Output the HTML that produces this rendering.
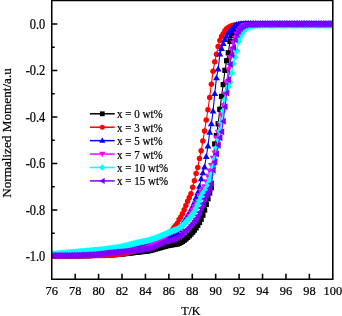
<!DOCTYPE html>
<html><head><meta charset="utf-8"><style>
html,body{margin:0;padding:0;background:#fff;overflow:hidden;}
svg{display:block;will-change:transform;}
</style></head><body>
<svg width="342" height="316" viewBox="0 0 342 316">
<rect width="342" height="316" fill="#fff"/>
<path d="M75.17,279.15v-5.3M98.59,279.15v-5.3M122.01,279.15v-5.3M145.43,279.15v-5.3M168.85,279.15v-5.3M192.27,279.15v-5.3M215.69,279.15v-5.3M239.11,279.15v-5.3M262.53,279.15v-5.3M285.95,279.15v-5.3M309.37,279.15v-5.3M51.75,23.90h5.6M51.75,47.15h3.0M51.75,70.40h5.6M51.75,93.65h3.0M51.75,116.90h5.6M51.75,140.15h3.0M51.75,163.40h5.6M51.75,186.65h3.0M51.75,209.90h5.6M51.75,233.15h3.0M51.75,256.40h5.6" stroke="#000" stroke-width="1.55"/>
<defs><clipPath id="pc"><rect x="51.75" y="0.35" width="281.04" height="278.80"/></clipPath></defs>
<g clip-path="url(#pc)"><g fill="#000"><path d="M51.75,255.80L53.45,255.80L55.15,255.80L56.84,255.79L58.54,255.79L60.24,255.78L61.94,255.78L63.64,255.77L65.33,255.76L67.03,255.75L68.73,255.73L70.43,255.72L72.13,255.71L73.82,255.69L75.52,255.67L77.22,255.65L78.92,255.63L80.62,255.61L82.31,255.59L84.01,255.57L85.71,255.55L87.41,255.52L89.10,255.49L90.80,255.47L92.50,255.44L94.20,255.41L95.90,255.38L97.59,255.35L99.29,255.31L100.99,255.28L102.69,255.23L104.39,255.16L106.08,255.08L107.78,254.99L109.48,254.88L111.18,254.77L112.88,254.65L114.57,254.52L116.27,254.39L117.97,254.26L119.67,254.13L121.37,253.99L123.06,253.83L124.76,253.65L126.46,253.46L128.16,253.26L129.86,253.05L131.55,252.84L133.25,252.63L134.95,252.41L136.65,252.20L138.35,251.99L140.04,251.80L141.74,251.62L143.44,251.45L145.14,251.27L146.84,251.07L148.53,250.81L150.23,250.46L151.93,250.03L153.63,249.55L155.32,249.03L157.02,248.53L158.72,248.05L160.42,247.59L162.12,247.12L163.81,246.64L165.51,246.17L167.21,245.73L168.91,245.33L170.61,244.99L172.30,244.72L174.00,244.50L175.70,244.24L177.40,243.90L179.10,243.33L180.79,242.43L182.49,241.41L184.19,240.20L185.89,238.82L187.59,237.33L189.28,235.75L190.98,234.03L192.68,232.16L194.38,230.09L196.08,227.82L197.77,225.32L199.47,222.48L201.17,219.21L202.87,215.16L204.57,210.01L206.26,204.41L207.96,198.81L209.66,193.03L211.36,187.72L213.06,165.65L214.75,143.99L216.45,135.56L218.15,123.79L219.85,109.30L221.54,96.43L223.24,84.59L224.94,70.35L226.64,60.69L228.34,52.80L230.03,41.39L231.73,35.60L233.43,31.77L235.13,29.20L236.83,27.33L238.52,26.23L240.22,25.41L241.92,24.75L243.62,24.33L245.32,24.20L247.01,24.18L248.71,24.17L250.41,24.15L252.11,24.14L253.81,24.12L255.50,24.11L257.20,24.10L258.90,24.09L260.60,24.08L262.30,24.07L263.99,24.05L265.69,24.04L267.39,24.04L269.09,24.03L270.79,24.02L272.48,24.01L274.18,24.00L275.88,23.99L277.58,23.99L279.28,23.98L280.97,23.97L282.67,23.97L284.37,23.96L286.07,23.96L287.77,23.95L289.46,23.95L291.16,23.94L292.86,23.94L294.56,23.93L296.25,23.93L297.95,23.93L299.65,23.92L301.35,23.92L303.05,23.92L304.74,23.92L306.44,23.91L308.14,23.91L309.84,23.91L311.54,23.91L313.23,23.91L314.93,23.91L316.63,23.90L318.33,23.90L320.03,23.90L321.72,23.90L323.42,23.90L325.12,23.90L326.82,23.90L328.52,23.90L330.21,23.90L331.91,23.90" fill="none" stroke="#000" stroke-width="1.1"/>
<rect x="49.11" y="253.16" width="5.28" height="5.28"/><rect x="50.81" y="253.16" width="5.28" height="5.28"/><rect x="52.51" y="253.16" width="5.28" height="5.28"/><rect x="54.20" y="253.15" width="5.28" height="5.28"/><rect x="55.90" y="253.15" width="5.28" height="5.28"/><rect x="57.60" y="253.14" width="5.28" height="5.28"/><rect x="59.30" y="253.14" width="5.28" height="5.28"/><rect x="61.00" y="253.13" width="5.28" height="5.28"/><rect x="62.69" y="253.12" width="5.28" height="5.28"/><rect x="64.39" y="253.11" width="5.28" height="5.28"/><rect x="66.09" y="253.09" width="5.28" height="5.28"/><rect x="67.79" y="253.08" width="5.28" height="5.28"/><rect x="69.49" y="253.07" width="5.28" height="5.28"/><rect x="71.18" y="253.05" width="5.28" height="5.28"/><rect x="72.88" y="253.03" width="5.28" height="5.28"/><rect x="74.58" y="253.01" width="5.28" height="5.28"/><rect x="76.28" y="252.99" width="5.28" height="5.28"/><rect x="77.98" y="252.97" width="5.28" height="5.28"/><rect x="79.67" y="252.95" width="5.28" height="5.28"/><rect x="81.37" y="252.93" width="5.28" height="5.28"/><rect x="83.07" y="252.91" width="5.28" height="5.28"/><rect x="84.77" y="252.88" width="5.28" height="5.28"/><rect x="86.46" y="252.85" width="5.28" height="5.28"/><rect x="88.16" y="252.83" width="5.28" height="5.28"/><rect x="89.86" y="252.80" width="5.28" height="5.28"/><rect x="91.56" y="252.77" width="5.28" height="5.28"/><rect x="93.26" y="252.74" width="5.28" height="5.28"/><rect x="94.95" y="252.71" width="5.28" height="5.28"/><rect x="96.65" y="252.67" width="5.28" height="5.28"/><rect x="98.35" y="252.64" width="5.28" height="5.28"/><rect x="100.05" y="252.59" width="5.28" height="5.28"/><rect x="101.75" y="252.52" width="5.28" height="5.28"/><rect x="103.44" y="252.44" width="5.28" height="5.28"/><rect x="105.14" y="252.35" width="5.28" height="5.28"/><rect x="106.84" y="252.24" width="5.28" height="5.28"/><rect x="108.54" y="252.13" width="5.28" height="5.28"/><rect x="110.24" y="252.01" width="5.28" height="5.28"/><rect x="111.93" y="251.88" width="5.28" height="5.28"/><rect x="113.63" y="251.75" width="5.28" height="5.28"/><rect x="115.33" y="251.62" width="5.28" height="5.28"/><rect x="117.03" y="251.49" width="5.28" height="5.28"/><rect x="118.73" y="251.35" width="5.28" height="5.28"/><rect x="120.42" y="251.19" width="5.28" height="5.28"/><rect x="122.12" y="251.01" width="5.28" height="5.28"/><rect x="123.82" y="250.82" width="5.28" height="5.28"/><rect x="125.52" y="250.62" width="5.28" height="5.28"/><rect x="127.22" y="250.41" width="5.28" height="5.28"/><rect x="128.91" y="250.20" width="5.28" height="5.28"/><rect x="130.61" y="249.99" width="5.28" height="5.28"/><rect x="132.31" y="249.77" width="5.28" height="5.28"/><rect x="134.01" y="249.56" width="5.28" height="5.28"/><rect x="135.71" y="249.35" width="5.28" height="5.28"/><rect x="137.40" y="249.16" width="5.28" height="5.28"/><rect x="139.10" y="248.98" width="5.28" height="5.28"/><rect x="140.80" y="248.81" width="5.28" height="5.28"/><rect x="142.50" y="248.63" width="5.28" height="5.28"/><rect x="144.20" y="248.43" width="5.28" height="5.28"/><rect x="145.89" y="248.17" width="5.28" height="5.28"/><rect x="147.59" y="247.82" width="5.28" height="5.28"/><rect x="149.29" y="247.39" width="5.28" height="5.28"/><rect x="150.99" y="246.91" width="5.28" height="5.28"/><rect x="152.68" y="246.39" width="5.28" height="5.28"/><rect x="154.38" y="245.89" width="5.28" height="5.28"/><rect x="156.08" y="245.41" width="5.28" height="5.28"/><rect x="157.78" y="244.95" width="5.28" height="5.28"/><rect x="159.48" y="244.48" width="5.28" height="5.28"/><rect x="161.17" y="244.00" width="5.28" height="5.28"/><rect x="162.87" y="243.53" width="5.28" height="5.28"/><rect x="164.57" y="243.09" width="5.28" height="5.28"/><rect x="166.27" y="242.69" width="5.28" height="5.28"/><rect x="167.97" y="242.35" width="5.28" height="5.28"/><rect x="169.66" y="242.08" width="5.28" height="5.28"/><rect x="171.36" y="241.86" width="5.28" height="5.28"/><rect x="173.06" y="241.60" width="5.28" height="5.28"/><rect x="174.76" y="241.26" width="5.28" height="5.28"/><rect x="176.46" y="240.69" width="5.28" height="5.28"/><rect x="178.15" y="239.79" width="5.28" height="5.28"/><rect x="179.85" y="238.77" width="5.28" height="5.28"/><rect x="181.55" y="237.56" width="5.28" height="5.28"/><rect x="183.25" y="236.18" width="5.28" height="5.28"/><rect x="184.95" y="234.69" width="5.28" height="5.28"/><rect x="186.64" y="233.11" width="5.28" height="5.28"/><rect x="188.34" y="231.39" width="5.28" height="5.28"/><rect x="190.04" y="229.52" width="5.28" height="5.28"/><rect x="191.74" y="227.45" width="5.28" height="5.28"/><rect x="193.44" y="225.18" width="5.28" height="5.28"/><rect x="195.13" y="222.68" width="5.28" height="5.28"/><rect x="196.83" y="219.84" width="5.28" height="5.28"/><rect x="198.53" y="216.57" width="5.28" height="5.28"/><rect x="200.23" y="212.52" width="5.28" height="5.28"/><rect x="201.93" y="207.37" width="5.28" height="5.28"/><rect x="203.62" y="201.77" width="5.28" height="5.28"/><rect x="205.32" y="196.17" width="5.28" height="5.28"/><rect x="207.02" y="190.39" width="5.28" height="5.28"/><rect x="208.72" y="185.08" width="5.28" height="5.28"/><rect x="210.42" y="163.01" width="5.28" height="5.28"/><rect x="212.11" y="141.35" width="5.28" height="5.28"/><rect x="213.81" y="132.92" width="5.28" height="5.28"/><rect x="215.51" y="121.15" width="5.28" height="5.28"/><rect x="217.21" y="106.66" width="5.28" height="5.28"/><rect x="218.90" y="93.79" width="5.28" height="5.28"/><rect x="220.60" y="81.95" width="5.28" height="5.28"/><rect x="222.30" y="67.71" width="5.28" height="5.28"/><rect x="224.00" y="58.05" width="5.28" height="5.28"/><rect x="225.70" y="50.16" width="5.28" height="5.28"/><rect x="227.39" y="38.75" width="5.28" height="5.28"/><rect x="229.09" y="32.96" width="5.28" height="5.28"/><rect x="230.79" y="29.13" width="5.28" height="5.28"/><rect x="232.49" y="26.56" width="5.28" height="5.28"/><rect x="234.19" y="24.69" width="5.28" height="5.28"/><rect x="235.88" y="23.59" width="5.28" height="5.28"/><rect x="237.58" y="22.77" width="5.28" height="5.28"/><rect x="239.28" y="22.11" width="5.28" height="5.28"/><rect x="240.98" y="21.69" width="5.28" height="5.28"/><rect x="242.68" y="21.56" width="5.28" height="5.28"/><rect x="244.37" y="21.54" width="5.28" height="5.28"/><rect x="246.07" y="21.53" width="5.28" height="5.28"/><rect x="247.77" y="21.51" width="5.28" height="5.28"/><rect x="249.47" y="21.50" width="5.28" height="5.28"/><rect x="251.17" y="21.48" width="5.28" height="5.28"/><rect x="252.86" y="21.47" width="5.28" height="5.28"/><rect x="254.56" y="21.46" width="5.28" height="5.28"/><rect x="256.26" y="21.45" width="5.28" height="5.28"/><rect x="257.96" y="21.44" width="5.28" height="5.28"/><rect x="259.66" y="21.43" width="5.28" height="5.28"/><rect x="261.35" y="21.41" width="5.28" height="5.28"/><rect x="263.05" y="21.40" width="5.28" height="5.28"/><rect x="264.75" y="21.40" width="5.28" height="5.28"/><rect x="266.45" y="21.39" width="5.28" height="5.28"/><rect x="268.15" y="21.38" width="5.28" height="5.28"/><rect x="269.84" y="21.37" width="5.28" height="5.28"/><rect x="271.54" y="21.36" width="5.28" height="5.28"/><rect x="273.24" y="21.35" width="5.28" height="5.28"/><rect x="274.94" y="21.35" width="5.28" height="5.28"/><rect x="276.64" y="21.34" width="5.28" height="5.28"/><rect x="278.33" y="21.33" width="5.28" height="5.28"/><rect x="280.03" y="21.33" width="5.28" height="5.28"/><rect x="281.73" y="21.32" width="5.28" height="5.28"/><rect x="283.43" y="21.32" width="5.28" height="5.28"/><rect x="285.13" y="21.31" width="5.28" height="5.28"/><rect x="286.82" y="21.31" width="5.28" height="5.28"/><rect x="288.52" y="21.30" width="5.28" height="5.28"/><rect x="290.22" y="21.30" width="5.28" height="5.28"/><rect x="291.92" y="21.29" width="5.28" height="5.28"/><rect x="293.61" y="21.29" width="5.28" height="5.28"/><rect x="295.31" y="21.29" width="5.28" height="5.28"/><rect x="297.01" y="21.28" width="5.28" height="5.28"/><rect x="298.71" y="21.28" width="5.28" height="5.28"/><rect x="300.41" y="21.28" width="5.28" height="5.28"/><rect x="302.10" y="21.28" width="5.28" height="5.28"/><rect x="303.80" y="21.27" width="5.28" height="5.28"/><rect x="305.50" y="21.27" width="5.28" height="5.28"/><rect x="307.20" y="21.27" width="5.28" height="5.28"/><rect x="308.90" y="21.27" width="5.28" height="5.28"/><rect x="310.59" y="21.27" width="5.28" height="5.28"/><rect x="312.29" y="21.27" width="5.28" height="5.28"/><rect x="313.99" y="21.26" width="5.28" height="5.28"/><rect x="315.69" y="21.26" width="5.28" height="5.28"/><rect x="317.39" y="21.26" width="5.28" height="5.28"/><rect x="319.08" y="21.26" width="5.28" height="5.28"/><rect x="320.78" y="21.26" width="5.28" height="5.28"/><rect x="322.48" y="21.26" width="5.28" height="5.28"/><rect x="324.18" y="21.26" width="5.28" height="5.28"/><rect x="325.88" y="21.26" width="5.28" height="5.28"/><rect x="327.57" y="21.26" width="5.28" height="5.28"/><rect x="329.27" y="21.26" width="5.28" height="5.28"/>
</g>
<g fill="#ff0000"><path d="M51.75,255.90L53.45,255.90L55.15,255.90L56.84,255.90L58.54,255.89L60.24,255.89L61.94,255.88L63.64,255.88L65.33,255.87L67.03,255.86L68.73,255.85L70.43,255.84L72.13,255.83L73.82,255.82L75.52,255.80L77.22,255.79L78.92,255.77L80.62,255.76L82.31,255.74L84.01,255.72L85.71,255.70L87.41,255.68L89.10,255.66L90.80,255.64L92.50,255.61L94.20,255.59L95.90,255.56L97.59,255.54L99.29,255.51L100.99,255.48L102.69,255.44L104.39,255.38L106.08,255.31L107.78,255.23L109.48,255.14L111.18,255.03L112.88,254.91L114.57,254.78L116.27,254.64L117.97,254.49L119.67,254.33L121.37,254.14L123.06,253.87L124.76,253.54L126.46,253.15L128.16,252.72L129.86,252.26L131.55,251.78L133.25,251.30L134.95,250.81L136.65,250.33L138.35,249.82L140.04,249.28L141.74,248.72L143.44,248.12L145.14,247.49L146.84,246.83L148.53,246.13L150.23,245.40L151.93,244.58L153.63,243.67L155.32,242.69L157.02,241.66L158.72,240.60L160.42,239.54L162.12,238.46L163.81,237.34L165.51,236.14L167.21,234.83L168.91,233.39L170.61,231.74L172.30,229.75L174.00,227.39L175.70,225.43L177.40,223.24L179.10,219.48L180.79,217.01L182.49,213.85L184.19,209.76L185.89,205.54L187.59,201.23L189.28,197.42L190.98,193.63L192.68,187.17L194.38,180.69L196.08,173.40L197.77,167.44L199.47,158.40L201.17,150.83L202.87,141.09L204.57,130.94L206.26,120.02L207.96,109.72L209.66,97.43L211.36,84.24L213.06,71.33L214.75,61.87L216.45,54.28L218.15,46.44L219.85,40.52L221.54,36.58L223.24,33.63L224.94,30.82L226.64,28.77L228.34,27.42L230.03,26.49L231.73,25.76L233.43,25.23L235.13,24.89L236.83,24.61L238.52,24.41L240.22,24.29L241.92,24.21L243.62,24.13L245.32,24.08L247.01,24.03L248.71,24.01L250.41,24.00L252.11,24.00L253.81,24.00L255.50,24.00L257.20,24.00L258.90,24.00L260.60,24.00L262.30,24.00L263.99,24.00L265.69,24.00L267.39,24.00L269.09,24.00L270.79,24.00L272.48,24.00L274.18,24.00L275.88,24.00L277.58,24.00L279.28,24.00L280.97,24.01L282.67,24.01L284.37,24.01L286.07,24.01L287.77,24.01L289.46,24.01L291.16,24.01L292.86,24.01L294.56,24.02L296.25,24.02L297.95,24.02L299.65,24.02L301.35,24.02L303.05,24.03L304.74,24.03L306.44,24.03L308.14,24.03L309.84,24.04L311.54,24.04L313.23,24.04L314.93,24.05L316.63,24.05L318.33,24.06L320.03,24.06L321.72,24.06L323.42,24.07L325.12,24.07L326.82,24.08L328.52,24.08L330.21,24.09L331.91,24.10" fill="none" stroke="#ff0000" stroke-width="1.1"/>
<circle cx="51.75" cy="255.90" r="2.75"/><circle cx="53.45" cy="255.90" r="2.75"/><circle cx="55.15" cy="255.90" r="2.75"/><circle cx="56.84" cy="255.90" r="2.75"/><circle cx="58.54" cy="255.89" r="2.75"/><circle cx="60.24" cy="255.89" r="2.75"/><circle cx="61.94" cy="255.88" r="2.75"/><circle cx="63.64" cy="255.88" r="2.75"/><circle cx="65.33" cy="255.87" r="2.75"/><circle cx="67.03" cy="255.86" r="2.75"/><circle cx="68.73" cy="255.85" r="2.75"/><circle cx="70.43" cy="255.84" r="2.75"/><circle cx="72.13" cy="255.83" r="2.75"/><circle cx="73.82" cy="255.82" r="2.75"/><circle cx="75.52" cy="255.80" r="2.75"/><circle cx="77.22" cy="255.79" r="2.75"/><circle cx="78.92" cy="255.77" r="2.75"/><circle cx="80.62" cy="255.76" r="2.75"/><circle cx="82.31" cy="255.74" r="2.75"/><circle cx="84.01" cy="255.72" r="2.75"/><circle cx="85.71" cy="255.70" r="2.75"/><circle cx="87.41" cy="255.68" r="2.75"/><circle cx="89.10" cy="255.66" r="2.75"/><circle cx="90.80" cy="255.64" r="2.75"/><circle cx="92.50" cy="255.61" r="2.75"/><circle cx="94.20" cy="255.59" r="2.75"/><circle cx="95.90" cy="255.56" r="2.75"/><circle cx="97.59" cy="255.54" r="2.75"/><circle cx="99.29" cy="255.51" r="2.75"/><circle cx="100.99" cy="255.48" r="2.75"/><circle cx="102.69" cy="255.44" r="2.75"/><circle cx="104.39" cy="255.38" r="2.75"/><circle cx="106.08" cy="255.31" r="2.75"/><circle cx="107.78" cy="255.23" r="2.75"/><circle cx="109.48" cy="255.14" r="2.75"/><circle cx="111.18" cy="255.03" r="2.75"/><circle cx="112.88" cy="254.91" r="2.75"/><circle cx="114.57" cy="254.78" r="2.75"/><circle cx="116.27" cy="254.64" r="2.75"/><circle cx="117.97" cy="254.49" r="2.75"/><circle cx="119.67" cy="254.33" r="2.75"/><circle cx="121.37" cy="254.14" r="2.75"/><circle cx="123.06" cy="253.87" r="2.75"/><circle cx="124.76" cy="253.54" r="2.75"/><circle cx="126.46" cy="253.15" r="2.75"/><circle cx="128.16" cy="252.72" r="2.75"/><circle cx="129.86" cy="252.26" r="2.75"/><circle cx="131.55" cy="251.78" r="2.75"/><circle cx="133.25" cy="251.30" r="2.75"/><circle cx="134.95" cy="250.81" r="2.75"/><circle cx="136.65" cy="250.33" r="2.75"/><circle cx="138.35" cy="249.82" r="2.75"/><circle cx="140.04" cy="249.28" r="2.75"/><circle cx="141.74" cy="248.72" r="2.75"/><circle cx="143.44" cy="248.12" r="2.75"/><circle cx="145.14" cy="247.49" r="2.75"/><circle cx="146.84" cy="246.83" r="2.75"/><circle cx="148.53" cy="246.13" r="2.75"/><circle cx="150.23" cy="245.40" r="2.75"/><circle cx="151.93" cy="244.58" r="2.75"/><circle cx="153.63" cy="243.67" r="2.75"/><circle cx="155.32" cy="242.69" r="2.75"/><circle cx="157.02" cy="241.66" r="2.75"/><circle cx="158.72" cy="240.60" r="2.75"/><circle cx="160.42" cy="239.54" r="2.75"/><circle cx="162.12" cy="238.46" r="2.75"/><circle cx="163.81" cy="237.34" r="2.75"/><circle cx="165.51" cy="236.14" r="2.75"/><circle cx="167.21" cy="234.83" r="2.75"/><circle cx="168.91" cy="233.39" r="2.75"/><circle cx="170.61" cy="231.74" r="2.75"/><circle cx="172.30" cy="229.75" r="2.75"/><circle cx="174.00" cy="227.39" r="2.75"/><circle cx="175.70" cy="225.43" r="2.75"/><circle cx="177.40" cy="223.24" r="2.75"/><circle cx="179.10" cy="219.48" r="2.75"/><circle cx="180.79" cy="217.01" r="2.75"/><circle cx="182.49" cy="213.85" r="2.75"/><circle cx="184.19" cy="209.76" r="2.75"/><circle cx="185.89" cy="205.54" r="2.75"/><circle cx="187.59" cy="201.23" r="2.75"/><circle cx="189.28" cy="197.42" r="2.75"/><circle cx="190.98" cy="193.63" r="2.75"/><circle cx="192.68" cy="187.17" r="2.75"/><circle cx="194.38" cy="180.69" r="2.75"/><circle cx="196.08" cy="173.40" r="2.75"/><circle cx="197.77" cy="167.44" r="2.75"/><circle cx="199.47" cy="158.40" r="2.75"/><circle cx="201.17" cy="150.83" r="2.75"/><circle cx="202.87" cy="141.09" r="2.75"/><circle cx="204.57" cy="130.94" r="2.75"/><circle cx="206.26" cy="120.02" r="2.75"/><circle cx="207.96" cy="109.72" r="2.75"/><circle cx="209.66" cy="97.43" r="2.75"/><circle cx="211.36" cy="84.24" r="2.75"/><circle cx="213.06" cy="71.33" r="2.75"/><circle cx="214.75" cy="61.87" r="2.75"/><circle cx="216.45" cy="54.28" r="2.75"/><circle cx="218.15" cy="46.44" r="2.75"/><circle cx="219.85" cy="40.52" r="2.75"/><circle cx="221.54" cy="36.58" r="2.75"/><circle cx="223.24" cy="33.63" r="2.75"/><circle cx="224.94" cy="30.82" r="2.75"/><circle cx="226.64" cy="28.77" r="2.75"/><circle cx="228.34" cy="27.42" r="2.75"/><circle cx="230.03" cy="26.49" r="2.75"/><circle cx="231.73" cy="25.76" r="2.75"/><circle cx="233.43" cy="25.23" r="2.75"/><circle cx="235.13" cy="24.89" r="2.75"/><circle cx="236.83" cy="24.61" r="2.75"/><circle cx="238.52" cy="24.41" r="2.75"/><circle cx="240.22" cy="24.29" r="2.75"/><circle cx="241.92" cy="24.21" r="2.75"/><circle cx="243.62" cy="24.13" r="2.75"/><circle cx="245.32" cy="24.08" r="2.75"/><circle cx="247.01" cy="24.03" r="2.75"/><circle cx="248.71" cy="24.01" r="2.75"/><circle cx="250.41" cy="24.00" r="2.75"/><circle cx="252.11" cy="24.00" r="2.75"/><circle cx="253.81" cy="24.00" r="2.75"/><circle cx="255.50" cy="24.00" r="2.75"/><circle cx="257.20" cy="24.00" r="2.75"/><circle cx="258.90" cy="24.00" r="2.75"/><circle cx="260.60" cy="24.00" r="2.75"/><circle cx="262.30" cy="24.00" r="2.75"/><circle cx="263.99" cy="24.00" r="2.75"/><circle cx="265.69" cy="24.00" r="2.75"/><circle cx="267.39" cy="24.00" r="2.75"/><circle cx="269.09" cy="24.00" r="2.75"/><circle cx="270.79" cy="24.00" r="2.75"/><circle cx="272.48" cy="24.00" r="2.75"/><circle cx="274.18" cy="24.00" r="2.75"/><circle cx="275.88" cy="24.00" r="2.75"/><circle cx="277.58" cy="24.00" r="2.75"/><circle cx="279.28" cy="24.00" r="2.75"/><circle cx="280.97" cy="24.01" r="2.75"/><circle cx="282.67" cy="24.01" r="2.75"/><circle cx="284.37" cy="24.01" r="2.75"/><circle cx="286.07" cy="24.01" r="2.75"/><circle cx="287.77" cy="24.01" r="2.75"/><circle cx="289.46" cy="24.01" r="2.75"/><circle cx="291.16" cy="24.01" r="2.75"/><circle cx="292.86" cy="24.01" r="2.75"/><circle cx="294.56" cy="24.02" r="2.75"/><circle cx="296.25" cy="24.02" r="2.75"/><circle cx="297.95" cy="24.02" r="2.75"/><circle cx="299.65" cy="24.02" r="2.75"/><circle cx="301.35" cy="24.02" r="2.75"/><circle cx="303.05" cy="24.03" r="2.75"/><circle cx="304.74" cy="24.03" r="2.75"/><circle cx="306.44" cy="24.03" r="2.75"/><circle cx="308.14" cy="24.03" r="2.75"/><circle cx="309.84" cy="24.04" r="2.75"/><circle cx="311.54" cy="24.04" r="2.75"/><circle cx="313.23" cy="24.04" r="2.75"/><circle cx="314.93" cy="24.05" r="2.75"/><circle cx="316.63" cy="24.05" r="2.75"/><circle cx="318.33" cy="24.06" r="2.75"/><circle cx="320.03" cy="24.06" r="2.75"/><circle cx="321.72" cy="24.06" r="2.75"/><circle cx="323.42" cy="24.07" r="2.75"/><circle cx="325.12" cy="24.07" r="2.75"/><circle cx="326.82" cy="24.08" r="2.75"/><circle cx="328.52" cy="24.08" r="2.75"/><circle cx="330.21" cy="24.09" r="2.75"/><circle cx="331.91" cy="24.10" r="2.75"/>
</g>
<g fill="#0000ff"><path d="M51.75,255.60L53.45,255.60L55.15,255.59L56.84,255.57L58.54,255.55L60.24,255.52L61.94,255.49L63.64,255.45L65.33,255.40L67.03,255.35L68.73,255.30L70.43,255.24L72.13,255.17L73.82,255.10L75.52,255.03L77.22,254.95L78.92,254.87L80.62,254.78L82.31,254.69L84.01,254.60L85.71,254.50L87.41,254.41L89.10,254.30L90.80,254.20L92.50,254.09L94.20,253.99L95.90,253.87L97.59,253.76L99.29,253.65L100.99,253.53L102.69,253.38L104.39,253.21L106.08,253.01L107.78,252.80L109.48,252.57L111.18,252.33L112.88,252.08L114.57,251.82L116.27,251.56L117.97,251.30L119.67,251.05L121.37,250.80L123.06,250.56L124.76,250.31L126.46,250.06L128.16,249.81L129.86,249.55L131.55,249.27L133.25,248.98L134.95,248.67L136.65,248.34L138.35,247.98L140.04,247.59L141.74,247.14L143.44,246.60L145.14,245.99L146.84,245.33L148.53,244.63L150.23,243.90L151.93,243.15L153.63,242.42L155.32,241.69L157.02,241.01L158.72,240.36L160.42,239.77L162.12,239.20L163.81,238.63L165.51,238.06L167.21,237.49L168.91,236.90L170.61,236.28L172.30,235.71L174.00,235.07L175.70,234.19L177.40,232.55L179.10,229.94L180.79,227.21L182.49,224.16L184.19,221.19L185.89,218.55L187.59,215.85L189.28,212.90L190.98,209.73L192.68,206.24L194.38,202.26L196.08,197.46L197.77,192.53L199.47,186.44L201.17,178.90L202.87,172.95L204.57,167.14L206.26,156.50L207.96,145.98L209.66,132.27L211.36,123.74L213.06,111.10L214.75,93.65L216.45,77.91L218.15,69.08L219.85,54.11L221.54,48.64L223.24,43.66L224.94,39.69L226.64,36.21L228.34,33.06L230.03,30.66L231.73,28.66L233.43,26.94L235.13,25.77L236.83,24.88L238.52,24.39L240.22,24.06L241.92,23.81L243.62,23.65L245.32,23.60L247.01,23.59L248.71,23.59L250.41,23.58L252.11,23.58L253.81,23.57L255.50,23.57L257.20,23.57L258.90,23.56L260.60,23.56L262.30,23.56L263.99,23.55L265.69,23.55L267.39,23.54L269.09,23.54L270.79,23.54L272.48,23.54L274.18,23.53L275.88,23.53L277.58,23.53L279.28,23.53L280.97,23.52L282.67,23.52L284.37,23.52L286.07,23.52L287.77,23.52L289.46,23.52L291.16,23.51L292.86,23.51L294.56,23.51L296.25,23.51L297.95,23.51L299.65,23.51L301.35,23.51L303.05,23.51L304.74,23.51L306.44,23.50L308.14,23.50L309.84,23.50L311.54,23.50L313.23,23.50L314.93,23.50L316.63,23.50L318.33,23.50L320.03,23.50L321.72,23.50L323.42,23.50L325.12,23.50L326.82,23.50L328.52,23.50L330.21,23.50L331.91,23.50" fill="none" stroke="#0000ff" stroke-width="1.1"/>
<path d="M51.75,252.08L55.16,258.02H48.34Z"/><path d="M53.45,252.08L56.86,258.02H50.04Z"/><path d="M55.15,252.07L58.56,258.01H51.74Z"/><path d="M56.84,252.05L60.25,257.99H53.43Z"/><path d="M58.54,252.03L61.95,257.97H55.13Z"/><path d="M60.24,252.00L63.65,257.94H56.83Z"/><path d="M61.94,251.97L65.35,257.91H58.53Z"/><path d="M63.64,251.93L67.05,257.87H60.23Z"/><path d="M65.33,251.88L68.74,257.82H61.92Z"/><path d="M67.03,251.83L70.44,257.77H63.62Z"/><path d="M68.73,251.78L72.14,257.72H65.32Z"/><path d="M70.43,251.72L73.84,257.66H67.02Z"/><path d="M72.13,251.65L75.54,257.59H68.72Z"/><path d="M73.82,251.58L77.23,257.52H70.41Z"/><path d="M75.52,251.51L78.93,257.45H72.11Z"/><path d="M77.22,251.43L80.63,257.37H73.81Z"/><path d="M78.92,251.35L82.33,257.29H75.51Z"/><path d="M80.62,251.26L84.03,257.20H77.21Z"/><path d="M82.31,251.17L85.72,257.11H78.90Z"/><path d="M84.01,251.08L87.42,257.02H80.60Z"/><path d="M85.71,250.98L89.12,256.92H82.30Z"/><path d="M87.41,250.89L90.82,256.83H84.00Z"/><path d="M89.10,250.78L92.51,256.72H85.69Z"/><path d="M90.80,250.68L94.21,256.62H87.39Z"/><path d="M92.50,250.57L95.91,256.51H89.09Z"/><path d="M94.20,250.47L97.61,256.41H90.79Z"/><path d="M95.90,250.35L99.31,256.29H92.49Z"/><path d="M97.59,250.24L101.00,256.18H94.18Z"/><path d="M99.29,250.13L102.70,256.07H95.88Z"/><path d="M100.99,250.01L104.40,255.95H97.58Z"/><path d="M102.69,249.86L106.10,255.80H99.28Z"/><path d="M104.39,249.69L107.80,255.63H100.98Z"/><path d="M106.08,249.49L109.49,255.43H102.67Z"/><path d="M107.78,249.28L111.19,255.22H104.37Z"/><path d="M109.48,249.05L112.89,254.99H106.07Z"/><path d="M111.18,248.81L114.59,254.75H107.77Z"/><path d="M112.88,248.56L116.29,254.50H109.47Z"/><path d="M114.57,248.30L117.98,254.24H111.16Z"/><path d="M116.27,248.04L119.68,253.98H112.86Z"/><path d="M117.97,247.78L121.38,253.72H114.56Z"/><path d="M119.67,247.53L123.08,253.47H116.26Z"/><path d="M121.37,247.28L124.78,253.22H117.96Z"/><path d="M123.06,247.04L126.47,252.98H119.65Z"/><path d="M124.76,246.79L128.17,252.73H121.35Z"/><path d="M126.46,246.54L129.87,252.48H123.05Z"/><path d="M128.16,246.29L131.57,252.23H124.75Z"/><path d="M129.86,246.03L133.27,251.97H126.45Z"/><path d="M131.55,245.75L134.96,251.69H128.14Z"/><path d="M133.25,245.46L136.66,251.40H129.84Z"/><path d="M134.95,245.15L138.36,251.09H131.54Z"/><path d="M136.65,244.82L140.06,250.76H133.24Z"/><path d="M138.35,244.46L141.76,250.40H134.94Z"/><path d="M140.04,244.07L143.45,250.01H136.63Z"/><path d="M141.74,243.62L145.15,249.56H138.33Z"/><path d="M143.44,243.08L146.85,249.02H140.03Z"/><path d="M145.14,242.47L148.55,248.41H141.73Z"/><path d="M146.84,241.81L150.25,247.75H143.43Z"/><path d="M148.53,241.11L151.94,247.05H145.12Z"/><path d="M150.23,240.38L153.64,246.32H146.82Z"/><path d="M151.93,239.63L155.34,245.57H148.52Z"/><path d="M153.63,238.90L157.04,244.84H150.22Z"/><path d="M155.32,238.17L158.73,244.11H151.91Z"/><path d="M157.02,237.49L160.43,243.43H153.61Z"/><path d="M158.72,236.84L162.13,242.78H155.31Z"/><path d="M160.42,236.25L163.83,242.19H157.01Z"/><path d="M162.12,235.68L165.53,241.62H158.71Z"/><path d="M163.81,235.11L167.22,241.05H160.40Z"/><path d="M165.51,234.54L168.92,240.48H162.10Z"/><path d="M167.21,233.97L170.62,239.91H163.80Z"/><path d="M168.91,233.38L172.32,239.32H165.50Z"/><path d="M170.61,232.76L174.02,238.70H167.20Z"/><path d="M172.30,232.19L175.71,238.13H168.89Z"/><path d="M174.00,231.55L177.41,237.49H170.59Z"/><path d="M175.70,230.67L179.11,236.61H172.29Z"/><path d="M177.40,229.03L180.81,234.97H173.99Z"/><path d="M179.10,226.42L182.51,232.36H175.69Z"/><path d="M180.79,223.69L184.20,229.63H177.38Z"/><path d="M182.49,220.64L185.90,226.58H179.08Z"/><path d="M184.19,217.67L187.60,223.61H180.78Z"/><path d="M185.89,215.03L189.30,220.97H182.48Z"/><path d="M187.59,212.33L191.00,218.27H184.18Z"/><path d="M189.28,209.38L192.69,215.32H185.87Z"/><path d="M190.98,206.21L194.39,212.15H187.57Z"/><path d="M192.68,202.72L196.09,208.66H189.27Z"/><path d="M194.38,198.74L197.79,204.68H190.97Z"/><path d="M196.08,193.94L199.49,199.88H192.67Z"/><path d="M197.77,189.01L201.18,194.95H194.36Z"/><path d="M199.47,182.92L202.88,188.86H196.06Z"/><path d="M201.17,175.38L204.58,181.32H197.76Z"/><path d="M202.87,169.43L206.28,175.37H199.46Z"/><path d="M204.57,163.62L207.98,169.56H201.16Z"/><path d="M206.26,152.98L209.67,158.92H202.85Z"/><path d="M207.96,142.46L211.37,148.40H204.55Z"/><path d="M209.66,128.75L213.07,134.69H206.25Z"/><path d="M211.36,120.22L214.77,126.16H207.95Z"/><path d="M213.06,107.58L216.47,113.52H209.65Z"/><path d="M214.75,90.13L218.16,96.07H211.34Z"/><path d="M216.45,74.39L219.86,80.33H213.04Z"/><path d="M218.15,65.56L221.56,71.50H214.74Z"/><path d="M219.85,50.59L223.26,56.53H216.44Z"/><path d="M221.54,45.12L224.95,51.06H218.13Z"/><path d="M223.24,40.14L226.65,46.08H219.83Z"/><path d="M224.94,36.17L228.35,42.11H221.53Z"/><path d="M226.64,32.69L230.05,38.63H223.23Z"/><path d="M228.34,29.54L231.75,35.48H224.93Z"/><path d="M230.03,27.14L233.44,33.08H226.62Z"/><path d="M231.73,25.14L235.14,31.08H228.32Z"/><path d="M233.43,23.42L236.84,29.36H230.02Z"/><path d="M235.13,22.25L238.54,28.19H231.72Z"/><path d="M236.83,21.36L240.24,27.30H233.42Z"/><path d="M238.52,20.87L241.93,26.81H235.11Z"/><path d="M240.22,20.54L243.63,26.48H236.81Z"/><path d="M241.92,20.29L245.33,26.23H238.51Z"/><path d="M243.62,20.13L247.03,26.07H240.21Z"/><path d="M245.32,20.08L248.73,26.02H241.91Z"/><path d="M247.01,20.07L250.42,26.01H243.60Z"/><path d="M248.71,20.07L252.12,26.01H245.30Z"/><path d="M250.41,20.06L253.82,26.00H247.00Z"/><path d="M252.11,20.06L255.52,26.00H248.70Z"/><path d="M253.81,20.05L257.22,25.99H250.40Z"/><path d="M255.50,20.05L258.91,25.99H252.09Z"/><path d="M257.20,20.05L260.61,25.99H253.79Z"/><path d="M258.90,20.04L262.31,25.98H255.49Z"/><path d="M260.60,20.04L264.01,25.98H257.19Z"/><path d="M262.30,20.04L265.71,25.98H258.89Z"/><path d="M263.99,20.03L267.40,25.97H260.58Z"/><path d="M265.69,20.03L269.10,25.97H262.28Z"/><path d="M267.39,20.02L270.80,25.96H263.98Z"/><path d="M269.09,20.02L272.50,25.96H265.68Z"/><path d="M270.79,20.02L274.20,25.96H267.38Z"/><path d="M272.48,20.02L275.89,25.96H269.07Z"/><path d="M274.18,20.01L277.59,25.95H270.77Z"/><path d="M275.88,20.01L279.29,25.95H272.47Z"/><path d="M277.58,20.01L280.99,25.95H274.17Z"/><path d="M279.28,20.01L282.69,25.95H275.87Z"/><path d="M280.97,20.00L284.38,25.94H277.56Z"/><path d="M282.67,20.00L286.08,25.94H279.26Z"/><path d="M284.37,20.00L287.78,25.94H280.96Z"/><path d="M286.07,20.00L289.48,25.94H282.66Z"/><path d="M287.77,20.00L291.18,25.94H284.36Z"/><path d="M289.46,20.00L292.87,25.94H286.05Z"/><path d="M291.16,19.99L294.57,25.93H287.75Z"/><path d="M292.86,19.99L296.27,25.93H289.45Z"/><path d="M294.56,19.99L297.97,25.93H291.15Z"/><path d="M296.25,19.99L299.66,25.93H292.84Z"/><path d="M297.95,19.99L301.36,25.93H294.54Z"/><path d="M299.65,19.99L303.06,25.93H296.24Z"/><path d="M301.35,19.99L304.76,25.93H297.94Z"/><path d="M303.05,19.99L306.46,25.93H299.64Z"/><path d="M304.74,19.99L308.15,25.93H301.33Z"/><path d="M306.44,19.98L309.85,25.92H303.03Z"/><path d="M308.14,19.98L311.55,25.92H304.73Z"/><path d="M309.84,19.98L313.25,25.92H306.43Z"/><path d="M311.54,19.98L314.95,25.92H308.13Z"/><path d="M313.23,19.98L316.64,25.92H309.82Z"/><path d="M314.93,19.98L318.34,25.92H311.52Z"/><path d="M316.63,19.98L320.04,25.92H313.22Z"/><path d="M318.33,19.98L321.74,25.92H314.92Z"/><path d="M320.03,19.98L323.44,25.92H316.62Z"/><path d="M321.72,19.98L325.13,25.92H318.31Z"/><path d="M323.42,19.98L326.83,25.92H320.01Z"/><path d="M325.12,19.98L328.53,25.92H321.71Z"/><path d="M326.82,19.98L330.23,25.92H323.41Z"/><path d="M328.52,19.98L331.93,25.92H325.11Z"/><path d="M330.21,19.98L333.62,25.92H326.80Z"/><path d="M331.91,19.98L335.32,25.92H328.50Z"/>
</g>
<g fill="#ff00ff"><path d="M51.75,255.60L53.45,255.60L55.15,255.59L56.84,255.58L58.54,255.56L60.24,255.54L61.94,255.52L63.64,255.49L65.33,255.45L67.03,255.41L68.73,255.37L70.43,255.33L72.13,255.28L73.82,255.23L75.52,255.17L77.22,255.11L78.92,255.05L80.62,254.99L82.31,254.92L84.01,254.85L85.71,254.78L87.41,254.71L89.10,254.63L90.80,254.55L92.50,254.43L94.20,254.28L95.90,254.11L97.59,253.92L99.29,253.71L100.99,253.49L102.69,253.27L104.39,253.05L106.08,252.84L107.78,252.64L109.48,252.45L111.18,252.29L112.88,252.13L114.57,251.99L116.27,251.84L117.97,251.69L119.67,251.53L121.37,251.37L123.06,251.22L124.76,251.06L126.46,250.91L128.16,250.76L129.86,250.60L131.55,250.43L133.25,250.25L134.95,250.06L136.65,249.86L138.35,249.64L140.04,249.39L141.74,249.12L143.44,248.80L145.14,248.43L146.84,248.02L148.53,247.54L150.23,246.98L151.93,246.28L153.63,245.47L155.32,244.55L157.02,243.56L158.72,242.51L160.42,241.30L162.12,239.83L163.81,238.20L165.51,236.55L167.21,235.00L168.91,233.67L170.61,232.69L172.30,231.98L174.00,231.36L175.70,230.65L177.40,229.74L179.10,228.67L180.79,227.34L182.49,225.71L184.19,223.80L185.89,221.65L187.59,219.11L189.28,216.12L190.98,213.03L192.68,209.87L194.38,206.64L196.08,203.79L197.77,201.08L199.47,195.72L201.17,191.67L202.87,189.47L204.57,186.77L206.26,181.77L207.96,176.28L209.66,170.88L211.36,165.39L213.06,158.17L214.75,152.84L216.45,137.90L218.15,132.36L219.85,124.29L221.54,114.57L223.24,105.09L224.94,93.73L226.64,82.69L228.34,69.77L230.03,57.45L231.73,49.02L233.43,42.85L235.13,38.05L236.83,33.96L238.52,30.97L240.22,28.77L241.92,26.91L243.62,25.65L245.32,25.22L247.01,25.02L248.71,24.86L250.41,24.74L252.11,24.66L253.81,24.61L255.50,24.60L257.20,24.59L258.90,24.59L260.60,24.58L262.30,24.58L263.99,24.57L265.69,24.57L267.39,24.56L269.09,24.56L270.79,24.56L272.48,24.55L274.18,24.55L275.88,24.54L277.58,24.54L279.28,24.54L280.97,24.54L282.67,24.53L284.37,24.53L286.07,24.53L287.77,24.53L289.46,24.52L291.16,24.52L292.86,24.52L294.56,24.52L296.25,24.52L297.95,24.51L299.65,24.51L301.35,24.51L303.05,24.51L304.74,24.51L306.44,24.51L308.14,24.51L309.84,24.51L311.54,24.50L313.23,24.50L314.93,24.50L316.63,24.50L318.33,24.50L320.03,24.50L321.72,24.50L323.42,24.50L325.12,24.50L326.82,24.50L328.52,24.50L330.21,24.50L331.91,24.50" fill="none" stroke="#ff00ff" stroke-width="1.1"/>
<path d="M51.75,259.12L55.16,253.18H48.34Z"/><path d="M53.45,259.12L56.86,253.18H50.04Z"/><path d="M55.15,259.11L58.56,253.17H51.74Z"/><path d="M56.84,259.10L60.25,253.16H53.43Z"/><path d="M58.54,259.08L61.95,253.14H55.13Z"/><path d="M60.24,259.06L63.65,253.12H56.83Z"/><path d="M61.94,259.04L65.35,253.10H58.53Z"/><path d="M63.64,259.01L67.05,253.07H60.23Z"/><path d="M65.33,258.97L68.74,253.03H61.92Z"/><path d="M67.03,258.93L70.44,252.99H63.62Z"/><path d="M68.73,258.89L72.14,252.95H65.32Z"/><path d="M70.43,258.85L73.84,252.91H67.02Z"/><path d="M72.13,258.80L75.54,252.86H68.72Z"/><path d="M73.82,258.75L77.23,252.81H70.41Z"/><path d="M75.52,258.69L78.93,252.75H72.11Z"/><path d="M77.22,258.63L80.63,252.69H73.81Z"/><path d="M78.92,258.57L82.33,252.63H75.51Z"/><path d="M80.62,258.51L84.03,252.57H77.21Z"/><path d="M82.31,258.44L85.72,252.50H78.90Z"/><path d="M84.01,258.37L87.42,252.43H80.60Z"/><path d="M85.71,258.30L89.12,252.36H82.30Z"/><path d="M87.41,258.23L90.82,252.29H84.00Z"/><path d="M89.10,258.15L92.51,252.21H85.69Z"/><path d="M90.80,258.07L94.21,252.13H87.39Z"/><path d="M92.50,257.95L95.91,252.01H89.09Z"/><path d="M94.20,257.80L97.61,251.86H90.79Z"/><path d="M95.90,257.63L99.31,251.69H92.49Z"/><path d="M97.59,257.44L101.00,251.50H94.18Z"/><path d="M99.29,257.23L102.70,251.29H95.88Z"/><path d="M100.99,257.01L104.40,251.07H97.58Z"/><path d="M102.69,256.79L106.10,250.85H99.28Z"/><path d="M104.39,256.57L107.80,250.63H100.98Z"/><path d="M106.08,256.36L109.49,250.42H102.67Z"/><path d="M107.78,256.16L111.19,250.22H104.37Z"/><path d="M109.48,255.97L112.89,250.03H106.07Z"/><path d="M111.18,255.81L114.59,249.87H107.77Z"/><path d="M112.88,255.65L116.29,249.71H109.47Z"/><path d="M114.57,255.51L117.98,249.57H111.16Z"/><path d="M116.27,255.36L119.68,249.42H112.86Z"/><path d="M117.97,255.21L121.38,249.27H114.56Z"/><path d="M119.67,255.05L123.08,249.11H116.26Z"/><path d="M121.37,254.89L124.78,248.95H117.96Z"/><path d="M123.06,254.74L126.47,248.80H119.65Z"/><path d="M124.76,254.58L128.17,248.64H121.35Z"/><path d="M126.46,254.43L129.87,248.49H123.05Z"/><path d="M128.16,254.28L131.57,248.34H124.75Z"/><path d="M129.86,254.12L133.27,248.18H126.45Z"/><path d="M131.55,253.95L134.96,248.01H128.14Z"/><path d="M133.25,253.77L136.66,247.83H129.84Z"/><path d="M134.95,253.58L138.36,247.64H131.54Z"/><path d="M136.65,253.38L140.06,247.44H133.24Z"/><path d="M138.35,253.16L141.76,247.22H134.94Z"/><path d="M140.04,252.91L143.45,246.97H136.63Z"/><path d="M141.74,252.64L145.15,246.70H138.33Z"/><path d="M143.44,252.32L146.85,246.38H140.03Z"/><path d="M145.14,251.95L148.55,246.01H141.73Z"/><path d="M146.84,251.54L150.25,245.60H143.43Z"/><path d="M148.53,251.06L151.94,245.12H145.12Z"/><path d="M150.23,250.50L153.64,244.56H146.82Z"/><path d="M151.93,249.80L155.34,243.86H148.52Z"/><path d="M153.63,248.99L157.04,243.05H150.22Z"/><path d="M155.32,248.07L158.73,242.13H151.91Z"/><path d="M157.02,247.08L160.43,241.14H153.61Z"/><path d="M158.72,246.03L162.13,240.09H155.31Z"/><path d="M160.42,244.82L163.83,238.88H157.01Z"/><path d="M162.12,243.35L165.53,237.41H158.71Z"/><path d="M163.81,241.72L167.22,235.78H160.40Z"/><path d="M165.51,240.07L168.92,234.13H162.10Z"/><path d="M167.21,238.52L170.62,232.58H163.80Z"/><path d="M168.91,237.19L172.32,231.25H165.50Z"/><path d="M170.61,236.21L174.02,230.27H167.20Z"/><path d="M172.30,235.50L175.71,229.56H168.89Z"/><path d="M174.00,234.88L177.41,228.94H170.59Z"/><path d="M175.70,234.17L179.11,228.23H172.29Z"/><path d="M177.40,233.26L180.81,227.32H173.99Z"/><path d="M179.10,232.19L182.51,226.25H175.69Z"/><path d="M180.79,230.86L184.20,224.92H177.38Z"/><path d="M182.49,229.23L185.90,223.29H179.08Z"/><path d="M184.19,227.32L187.60,221.38H180.78Z"/><path d="M185.89,225.17L189.30,219.23H182.48Z"/><path d="M187.59,222.63L191.00,216.69H184.18Z"/><path d="M189.28,219.64L192.69,213.70H185.87Z"/><path d="M190.98,216.55L194.39,210.61H187.57Z"/><path d="M192.68,213.39L196.09,207.45H189.27Z"/><path d="M194.38,210.16L197.79,204.22H190.97Z"/><path d="M196.08,207.31L199.49,201.37H192.67Z"/><path d="M197.77,204.60L201.18,198.66H194.36Z"/><path d="M199.47,199.24L202.88,193.30H196.06Z"/><path d="M201.17,195.19L204.58,189.25H197.76Z"/><path d="M202.87,192.99L206.28,187.05H199.46Z"/><path d="M204.57,190.29L207.98,184.35H201.16Z"/><path d="M206.26,185.29L209.67,179.35H202.85Z"/><path d="M207.96,179.80L211.37,173.86H204.55Z"/><path d="M209.66,174.40L213.07,168.46H206.25Z"/><path d="M211.36,168.91L214.77,162.97H207.95Z"/><path d="M213.06,161.69L216.47,155.75H209.65Z"/><path d="M214.75,156.36L218.16,150.42H211.34Z"/><path d="M216.45,141.42L219.86,135.48H213.04Z"/><path d="M218.15,135.88L221.56,129.94H214.74Z"/><path d="M219.85,127.81L223.26,121.87H216.44Z"/><path d="M221.54,118.09L224.95,112.15H218.13Z"/><path d="M223.24,108.61L226.65,102.67H219.83Z"/><path d="M224.94,97.25L228.35,91.31H221.53Z"/><path d="M226.64,86.21L230.05,80.27H223.23Z"/><path d="M228.34,73.29L231.75,67.35H224.93Z"/><path d="M230.03,60.97L233.44,55.03H226.62Z"/><path d="M231.73,52.54L235.14,46.60H228.32Z"/><path d="M233.43,46.37L236.84,40.43H230.02Z"/><path d="M235.13,41.57L238.54,35.63H231.72Z"/><path d="M236.83,37.48L240.24,31.54H233.42Z"/><path d="M238.52,34.49L241.93,28.55H235.11Z"/><path d="M240.22,32.29L243.63,26.35H236.81Z"/><path d="M241.92,30.43L245.33,24.49H238.51Z"/><path d="M243.62,29.17L247.03,23.23H240.21Z"/><path d="M245.32,28.74L248.73,22.80H241.91Z"/><path d="M247.01,28.54L250.42,22.60H243.60Z"/><path d="M248.71,28.38L252.12,22.44H245.30Z"/><path d="M250.41,28.26L253.82,22.32H247.00Z"/><path d="M252.11,28.18L255.52,22.24H248.70Z"/><path d="M253.81,28.13L257.22,22.19H250.40Z"/><path d="M255.50,28.12L258.91,22.18H252.09Z"/><path d="M257.20,28.11L260.61,22.17H253.79Z"/><path d="M258.90,28.11L262.31,22.17H255.49Z"/><path d="M260.60,28.10L264.01,22.16H257.19Z"/><path d="M262.30,28.10L265.71,22.16H258.89Z"/><path d="M263.99,28.09L267.40,22.15H260.58Z"/><path d="M265.69,28.09L269.10,22.15H262.28Z"/><path d="M267.39,28.08L270.80,22.14H263.98Z"/><path d="M269.09,28.08L272.50,22.14H265.68Z"/><path d="M270.79,28.08L274.20,22.14H267.38Z"/><path d="M272.48,28.07L275.89,22.13H269.07Z"/><path d="M274.18,28.07L277.59,22.13H270.77Z"/><path d="M275.88,28.06L279.29,22.12H272.47Z"/><path d="M277.58,28.06L280.99,22.12H274.17Z"/><path d="M279.28,28.06L282.69,22.12H275.87Z"/><path d="M280.97,28.06L284.38,22.12H277.56Z"/><path d="M282.67,28.05L286.08,22.11H279.26Z"/><path d="M284.37,28.05L287.78,22.11H280.96Z"/><path d="M286.07,28.05L289.48,22.11H282.66Z"/><path d="M287.77,28.05L291.18,22.11H284.36Z"/><path d="M289.46,28.04L292.87,22.10H286.05Z"/><path d="M291.16,28.04L294.57,22.10H287.75Z"/><path d="M292.86,28.04L296.27,22.10H289.45Z"/><path d="M294.56,28.04L297.97,22.10H291.15Z"/><path d="M296.25,28.04L299.66,22.10H292.84Z"/><path d="M297.95,28.03L301.36,22.09H294.54Z"/><path d="M299.65,28.03L303.06,22.09H296.24Z"/><path d="M301.35,28.03L304.76,22.09H297.94Z"/><path d="M303.05,28.03L306.46,22.09H299.64Z"/><path d="M304.74,28.03L308.15,22.09H301.33Z"/><path d="M306.44,28.03L309.85,22.09H303.03Z"/><path d="M308.14,28.03L311.55,22.09H304.73Z"/><path d="M309.84,28.03L313.25,22.09H306.43Z"/><path d="M311.54,28.02L314.95,22.08H308.13Z"/><path d="M313.23,28.02L316.64,22.08H309.82Z"/><path d="M314.93,28.02L318.34,22.08H311.52Z"/><path d="M316.63,28.02L320.04,22.08H313.22Z"/><path d="M318.33,28.02L321.74,22.08H314.92Z"/><path d="M320.03,28.02L323.44,22.08H316.62Z"/><path d="M321.72,28.02L325.13,22.08H318.31Z"/><path d="M323.42,28.02L326.83,22.08H320.01Z"/><path d="M325.12,28.02L328.53,22.08H321.71Z"/><path d="M326.82,28.02L330.23,22.08H323.41Z"/><path d="M328.52,28.02L331.93,22.08H325.11Z"/><path d="M330.21,28.02L333.62,22.08H326.80Z"/><path d="M331.91,28.02L335.32,22.08H328.50Z"/>
</g>
<g fill="#00ffff"><path d="M51.75,254.12L53.45,253.98L55.15,253.84L56.84,253.70L58.54,253.56L60.24,253.42L61.94,253.27L63.64,253.12L65.33,252.97L67.03,252.82L68.73,252.67L70.43,252.52L72.13,252.37L73.82,252.21L75.52,252.05L77.22,251.90L78.92,251.74L80.62,251.58L82.31,251.42L84.01,251.26L85.71,251.10L87.41,250.93L89.10,250.77L90.80,250.60L92.50,250.44L94.20,250.28L95.90,250.12L97.59,249.96L99.29,249.79L100.99,249.62L102.69,249.45L104.39,249.26L106.08,249.08L107.78,248.88L109.48,248.67L111.18,248.44L112.88,248.20L114.57,247.94L116.27,247.66L117.97,247.37L119.67,247.06L121.37,246.73L123.06,246.37L124.76,245.99L126.46,245.58L128.16,245.16L129.86,244.73L131.55,244.29L133.25,243.85L134.95,243.42L136.65,242.99L138.35,242.58L140.04,242.19L141.74,241.83L143.44,241.50L145.14,241.16L146.84,240.78L148.53,240.36L150.23,239.88L151.93,239.34L153.63,238.77L155.32,238.16L157.02,237.52L158.72,236.87L160.42,236.17L162.12,235.40L163.81,234.64L165.51,233.90L167.21,233.18L168.91,232.46L170.61,231.75L172.30,231.10L174.00,230.46L175.70,229.79L177.40,229.01L179.10,228.06L180.79,226.93L182.49,225.62L184.19,224.10L185.89,222.27L187.59,220.32L189.28,218.41L190.98,216.47L192.68,214.30L194.38,211.74L196.08,208.29L197.77,204.39L199.47,200.60L201.17,196.83L202.87,193.86L204.57,191.47L206.26,188.49L207.96,183.82L209.66,179.17L211.36,174.55L213.06,166.95L214.75,159.06L216.45,147.69L218.15,139.52L219.85,131.24L221.54,121.97L223.24,110.87L224.94,99.53L226.64,91.60L228.34,86.66L230.03,82.26L231.73,73.07L233.43,63.64L235.13,57.19L236.83,50.76L238.52,41.59L240.22,36.87L241.92,33.78L243.62,31.11L245.32,28.79L247.01,27.58L248.71,26.76L250.41,26.22L252.11,25.92L253.81,25.67L255.50,25.46L257.20,25.31L258.90,25.22L260.60,25.20L262.30,25.18L263.99,25.17L265.69,25.16L267.39,25.15L269.09,25.14L270.79,25.13L272.48,25.12L274.18,25.12L275.88,25.11L277.58,25.10L279.28,25.09L280.97,25.08L282.67,25.08L284.37,25.07L286.07,25.07L287.77,25.06L289.46,25.05L291.16,25.05L292.86,25.04L294.56,25.04L296.25,25.04L297.95,25.03L299.65,25.03L301.35,25.03L303.05,25.02L304.74,25.02L306.44,25.02L308.14,25.01L309.84,25.01L311.54,25.01L313.23,25.01L314.93,25.01L316.63,25.01L318.33,25.00L320.03,25.00L321.72,25.00L323.42,25.00L325.12,25.00L326.82,25.00L328.52,25.00L330.21,25.00L331.91,25.00" fill="none" stroke="#00ffff" stroke-width="1.1"/>
<path d="M51.75,250.49L55.27,254.12L51.75,257.75L48.23,254.12Z"/><path d="M53.45,250.35L56.97,253.98L53.45,257.61L49.93,253.98Z"/><path d="M55.15,250.21L58.67,253.84L55.15,257.47L51.63,253.84Z"/><path d="M56.84,250.07L60.36,253.70L56.84,257.33L53.32,253.70Z"/><path d="M58.54,249.93L62.06,253.56L58.54,257.19L55.02,253.56Z"/><path d="M60.24,249.79L63.76,253.42L60.24,257.05L56.72,253.42Z"/><path d="M61.94,249.64L65.46,253.27L61.94,256.90L58.42,253.27Z"/><path d="M63.64,249.49L67.16,253.12L63.64,256.75L60.12,253.12Z"/><path d="M65.33,249.34L68.85,252.97L65.33,256.60L61.81,252.97Z"/><path d="M67.03,249.19L70.55,252.82L67.03,256.45L63.51,252.82Z"/><path d="M68.73,249.04L72.25,252.67L68.73,256.30L65.21,252.67Z"/><path d="M70.43,248.89L73.95,252.52L70.43,256.15L66.91,252.52Z"/><path d="M72.13,248.74L75.65,252.37L72.13,256.00L68.61,252.37Z"/><path d="M73.82,248.58L77.34,252.21L73.82,255.84L70.30,252.21Z"/><path d="M75.52,248.42L79.04,252.05L75.52,255.68L72.00,252.05Z"/><path d="M77.22,248.27L80.74,251.90L77.22,255.53L73.70,251.90Z"/><path d="M78.92,248.11L82.44,251.74L78.92,255.37L75.40,251.74Z"/><path d="M80.62,247.95L84.14,251.58L80.62,255.21L77.10,251.58Z"/><path d="M82.31,247.79L85.83,251.42L82.31,255.05L78.79,251.42Z"/><path d="M84.01,247.63L87.53,251.26L84.01,254.89L80.49,251.26Z"/><path d="M85.71,247.47L89.23,251.10L85.71,254.73L82.19,251.10Z"/><path d="M87.41,247.30L90.93,250.93L87.41,254.56L83.89,250.93Z"/><path d="M89.10,247.14L92.62,250.77L89.10,254.40L85.58,250.77Z"/><path d="M90.80,246.97L94.32,250.60L90.80,254.23L87.28,250.60Z"/><path d="M92.50,246.81L96.02,250.44L92.50,254.07L88.98,250.44Z"/><path d="M94.20,246.65L97.72,250.28L94.20,253.91L90.68,250.28Z"/><path d="M95.90,246.49L99.42,250.12L95.90,253.75L92.38,250.12Z"/><path d="M97.59,246.33L101.11,249.96L97.59,253.59L94.07,249.96Z"/><path d="M99.29,246.16L102.81,249.79L99.29,253.42L95.77,249.79Z"/><path d="M100.99,245.99L104.51,249.62L100.99,253.25L97.47,249.62Z"/><path d="M102.69,245.82L106.21,249.45L102.69,253.08L99.17,249.45Z"/><path d="M104.39,245.63L107.91,249.26L104.39,252.89L100.87,249.26Z"/><path d="M106.08,245.45L109.60,249.08L106.08,252.71L102.56,249.08Z"/><path d="M107.78,245.25L111.30,248.88L107.78,252.51L104.26,248.88Z"/><path d="M109.48,245.04L113.00,248.67L109.48,252.30L105.96,248.67Z"/><path d="M111.18,244.81L114.70,248.44L111.18,252.07L107.66,248.44Z"/><path d="M112.88,244.57L116.40,248.20L112.88,251.83L109.36,248.20Z"/><path d="M114.57,244.31L118.09,247.94L114.57,251.57L111.05,247.94Z"/><path d="M116.27,244.03L119.79,247.66L116.27,251.29L112.75,247.66Z"/><path d="M117.97,243.74L121.49,247.37L117.97,251.00L114.45,247.37Z"/><path d="M119.67,243.43L123.19,247.06L119.67,250.69L116.15,247.06Z"/><path d="M121.37,243.10L124.89,246.73L121.37,250.36L117.85,246.73Z"/><path d="M123.06,242.74L126.58,246.37L123.06,250.00L119.54,246.37Z"/><path d="M124.76,242.36L128.28,245.99L124.76,249.62L121.24,245.99Z"/><path d="M126.46,241.95L129.98,245.58L126.46,249.21L122.94,245.58Z"/><path d="M128.16,241.53L131.68,245.16L128.16,248.79L124.64,245.16Z"/><path d="M129.86,241.10L133.38,244.73L129.86,248.36L126.34,244.73Z"/><path d="M131.55,240.66L135.07,244.29L131.55,247.92L128.03,244.29Z"/><path d="M133.25,240.22L136.77,243.85L133.25,247.48L129.73,243.85Z"/><path d="M134.95,239.79L138.47,243.42L134.95,247.05L131.43,243.42Z"/><path d="M136.65,239.36L140.17,242.99L136.65,246.62L133.13,242.99Z"/><path d="M138.35,238.95L141.87,242.58L138.35,246.21L134.83,242.58Z"/><path d="M140.04,238.56L143.56,242.19L140.04,245.82L136.52,242.19Z"/><path d="M141.74,238.20L145.26,241.83L141.74,245.46L138.22,241.83Z"/><path d="M143.44,237.87L146.96,241.50L143.44,245.13L139.92,241.50Z"/><path d="M145.14,237.53L148.66,241.16L145.14,244.79L141.62,241.16Z"/><path d="M146.84,237.15L150.36,240.78L146.84,244.41L143.32,240.78Z"/><path d="M148.53,236.73L152.05,240.36L148.53,243.99L145.01,240.36Z"/><path d="M150.23,236.25L153.75,239.88L150.23,243.51L146.71,239.88Z"/><path d="M151.93,235.71L155.45,239.34L151.93,242.97L148.41,239.34Z"/><path d="M153.63,235.14L157.15,238.77L153.63,242.40L150.11,238.77Z"/><path d="M155.32,234.53L158.84,238.16L155.32,241.79L151.80,238.16Z"/><path d="M157.02,233.89L160.54,237.52L157.02,241.15L153.50,237.52Z"/><path d="M158.72,233.24L162.24,236.87L158.72,240.50L155.20,236.87Z"/><path d="M160.42,232.54L163.94,236.17L160.42,239.80L156.90,236.17Z"/><path d="M162.12,231.77L165.64,235.40L162.12,239.03L158.60,235.40Z"/><path d="M163.81,231.01L167.33,234.64L163.81,238.27L160.29,234.64Z"/><path d="M165.51,230.27L169.03,233.90L165.51,237.53L161.99,233.90Z"/><path d="M167.21,229.55L170.73,233.18L167.21,236.81L163.69,233.18Z"/><path d="M168.91,228.83L172.43,232.46L168.91,236.09L165.39,232.46Z"/><path d="M170.61,228.12L174.13,231.75L170.61,235.38L167.09,231.75Z"/><path d="M172.30,227.47L175.82,231.10L172.30,234.73L168.78,231.10Z"/><path d="M174.00,226.83L177.52,230.46L174.00,234.09L170.48,230.46Z"/><path d="M175.70,226.16L179.22,229.79L175.70,233.42L172.18,229.79Z"/><path d="M177.40,225.38L180.92,229.01L177.40,232.64L173.88,229.01Z"/><path d="M179.10,224.43L182.62,228.06L179.10,231.69L175.58,228.06Z"/><path d="M180.79,223.30L184.31,226.93L180.79,230.56L177.27,226.93Z"/><path d="M182.49,221.99L186.01,225.62L182.49,229.25L178.97,225.62Z"/><path d="M184.19,220.47L187.71,224.10L184.19,227.73L180.67,224.10Z"/><path d="M185.89,218.64L189.41,222.27L185.89,225.90L182.37,222.27Z"/><path d="M187.59,216.69L191.11,220.32L187.59,223.95L184.07,220.32Z"/><path d="M189.28,214.78L192.80,218.41L189.28,222.04L185.76,218.41Z"/><path d="M190.98,212.84L194.50,216.47L190.98,220.10L187.46,216.47Z"/><path d="M192.68,210.67L196.20,214.30L192.68,217.93L189.16,214.30Z"/><path d="M194.38,208.11L197.90,211.74L194.38,215.37L190.86,211.74Z"/><path d="M196.08,204.66L199.60,208.29L196.08,211.92L192.56,208.29Z"/><path d="M197.77,200.76L201.29,204.39L197.77,208.02L194.25,204.39Z"/><path d="M199.47,196.97L202.99,200.60L199.47,204.23L195.95,200.60Z"/><path d="M201.17,193.20L204.69,196.83L201.17,200.46L197.65,196.83Z"/><path d="M202.87,190.23L206.39,193.86L202.87,197.49L199.35,193.86Z"/><path d="M204.57,187.84L208.09,191.47L204.57,195.10L201.05,191.47Z"/><path d="M206.26,184.86L209.78,188.49L206.26,192.12L202.74,188.49Z"/><path d="M207.96,180.19L211.48,183.82L207.96,187.45L204.44,183.82Z"/><path d="M209.66,175.54L213.18,179.17L209.66,182.80L206.14,179.17Z"/><path d="M211.36,170.92L214.88,174.55L211.36,178.18L207.84,174.55Z"/><path d="M213.06,163.32L216.58,166.95L213.06,170.58L209.54,166.95Z"/><path d="M214.75,155.43L218.27,159.06L214.75,162.69L211.23,159.06Z"/><path d="M216.45,144.06L219.97,147.69L216.45,151.32L212.93,147.69Z"/><path d="M218.15,135.89L221.67,139.52L218.15,143.15L214.63,139.52Z"/><path d="M219.85,127.61L223.37,131.24L219.85,134.87L216.33,131.24Z"/><path d="M221.54,118.34L225.06,121.97L221.54,125.60L218.02,121.97Z"/><path d="M223.24,107.24L226.76,110.87L223.24,114.50L219.72,110.87Z"/><path d="M224.94,95.90L228.46,99.53L224.94,103.16L221.42,99.53Z"/><path d="M226.64,87.97L230.16,91.60L226.64,95.23L223.12,91.60Z"/><path d="M228.34,83.03L231.86,86.66L228.34,90.29L224.82,86.66Z"/><path d="M230.03,78.63L233.55,82.26L230.03,85.89L226.51,82.26Z"/><path d="M231.73,69.44L235.25,73.07L231.73,76.70L228.21,73.07Z"/><path d="M233.43,60.01L236.95,63.64L233.43,67.27L229.91,63.64Z"/><path d="M235.13,53.56L238.65,57.19L235.13,60.82L231.61,57.19Z"/><path d="M236.83,47.13L240.35,50.76L236.83,54.39L233.31,50.76Z"/><path d="M238.52,37.96L242.04,41.59L238.52,45.22L235.00,41.59Z"/><path d="M240.22,33.24L243.74,36.87L240.22,40.50L236.70,36.87Z"/><path d="M241.92,30.15L245.44,33.78L241.92,37.41L238.40,33.78Z"/><path d="M243.62,27.48L247.14,31.11L243.62,34.74L240.10,31.11Z"/><path d="M245.32,25.16L248.84,28.79L245.32,32.42L241.80,28.79Z"/><path d="M247.01,23.95L250.53,27.58L247.01,31.21L243.49,27.58Z"/><path d="M248.71,23.13L252.23,26.76L248.71,30.39L245.19,26.76Z"/><path d="M250.41,22.59L253.93,26.22L250.41,29.85L246.89,26.22Z"/><path d="M252.11,22.29L255.63,25.92L252.11,29.55L248.59,25.92Z"/><path d="M253.81,22.04L257.33,25.67L253.81,29.30L250.29,25.67Z"/><path d="M255.50,21.83L259.02,25.46L255.50,29.09L251.98,25.46Z"/><path d="M257.20,21.68L260.72,25.31L257.20,28.94L253.68,25.31Z"/><path d="M258.90,21.59L262.42,25.22L258.90,28.85L255.38,25.22Z"/><path d="M260.60,21.57L264.12,25.20L260.60,28.83L257.08,25.20Z"/><path d="M262.30,21.55L265.82,25.18L262.30,28.81L258.78,25.18Z"/><path d="M263.99,21.54L267.51,25.17L263.99,28.80L260.47,25.17Z"/><path d="M265.69,21.53L269.21,25.16L265.69,28.79L262.17,25.16Z"/><path d="M267.39,21.52L270.91,25.15L267.39,28.78L263.87,25.15Z"/><path d="M269.09,21.51L272.61,25.14L269.09,28.77L265.57,25.14Z"/><path d="M270.79,21.50L274.31,25.13L270.79,28.76L267.27,25.13Z"/><path d="M272.48,21.49L276.00,25.12L272.48,28.75L268.96,25.12Z"/><path d="M274.18,21.49L277.70,25.12L274.18,28.75L270.66,25.12Z"/><path d="M275.88,21.48L279.40,25.11L275.88,28.74L272.36,25.11Z"/><path d="M277.58,21.47L281.10,25.10L277.58,28.73L274.06,25.10Z"/><path d="M279.28,21.46L282.80,25.09L279.28,28.72L275.76,25.09Z"/><path d="M280.97,21.45L284.49,25.08L280.97,28.71L277.45,25.08Z"/><path d="M282.67,21.45L286.19,25.08L282.67,28.71L279.15,25.08Z"/><path d="M284.37,21.44L287.89,25.07L284.37,28.70L280.85,25.07Z"/><path d="M286.07,21.44L289.59,25.07L286.07,28.70L282.55,25.07Z"/><path d="M287.77,21.43L291.29,25.06L287.77,28.69L284.25,25.06Z"/><path d="M289.46,21.42L292.98,25.05L289.46,28.68L285.94,25.05Z"/><path d="M291.16,21.42L294.68,25.05L291.16,28.68L287.64,25.05Z"/><path d="M292.86,21.41L296.38,25.04L292.86,28.67L289.34,25.04Z"/><path d="M294.56,21.41L298.08,25.04L294.56,28.67L291.04,25.04Z"/><path d="M296.25,21.41L299.77,25.04L296.25,28.67L292.73,25.04Z"/><path d="M297.95,21.40L301.47,25.03L297.95,28.66L294.43,25.03Z"/><path d="M299.65,21.40L303.17,25.03L299.65,28.66L296.13,25.03Z"/><path d="M301.35,21.40L304.87,25.03L301.35,28.66L297.83,25.03Z"/><path d="M303.05,21.39L306.57,25.02L303.05,28.65L299.53,25.02Z"/><path d="M304.74,21.39L308.26,25.02L304.74,28.65L301.22,25.02Z"/><path d="M306.44,21.39L309.96,25.02L306.44,28.65L302.92,25.02Z"/><path d="M308.14,21.38L311.66,25.01L308.14,28.64L304.62,25.01Z"/><path d="M309.84,21.38L313.36,25.01L309.84,28.64L306.32,25.01Z"/><path d="M311.54,21.38L315.06,25.01L311.54,28.64L308.02,25.01Z"/><path d="M313.23,21.38L316.75,25.01L313.23,28.64L309.71,25.01Z"/><path d="M314.93,21.38L318.45,25.01L314.93,28.64L311.41,25.01Z"/><path d="M316.63,21.38L320.15,25.01L316.63,28.64L313.11,25.01Z"/><path d="M318.33,21.37L321.85,25.00L318.33,28.63L314.81,25.00Z"/><path d="M320.03,21.37L323.55,25.00L320.03,28.63L316.51,25.00Z"/><path d="M321.72,21.37L325.24,25.00L321.72,28.63L318.20,25.00Z"/><path d="M323.42,21.37L326.94,25.00L323.42,28.63L319.90,25.00Z"/><path d="M325.12,21.37L328.64,25.00L325.12,28.63L321.60,25.00Z"/><path d="M326.82,21.37L330.34,25.00L326.82,28.63L323.30,25.00Z"/><path d="M328.52,21.37L332.04,25.00L328.52,28.63L325.00,25.00Z"/><path d="M330.21,21.37L333.73,25.00L330.21,28.63L326.69,25.00Z"/><path d="M331.91,21.37L335.43,25.00L331.91,28.63L328.39,25.00Z"/>
</g>
<g fill="#8000ff"><path d="M51.75,255.60L53.45,255.60L55.15,255.59L56.84,255.58L58.54,255.57L60.24,255.56L61.94,255.54L63.64,255.51L65.33,255.49L67.03,255.46L68.73,255.43L70.43,255.39L72.13,255.35L73.82,255.31L75.52,255.27L77.22,255.22L78.92,255.17L80.62,255.12L82.31,255.06L84.01,255.01L85.71,254.95L87.41,254.89L89.10,254.83L90.80,254.75L92.50,254.64L94.20,254.50L95.90,254.32L97.59,254.13L99.29,253.91L100.99,253.69L102.69,253.46L104.39,253.24L106.08,253.02L107.78,252.82L109.48,252.65L111.18,252.50L112.88,252.36L114.57,252.23L116.27,252.11L117.97,251.97L119.67,251.83L121.37,251.67L123.06,251.51L124.76,251.34L126.46,251.16L128.16,250.97L129.86,250.78L131.55,250.59L133.25,250.39L134.95,250.20L136.65,250.00L138.35,249.80L140.04,249.59L141.74,249.41L143.44,249.23L145.14,249.04L146.84,248.80L148.53,248.49L150.23,247.99L151.93,247.33L153.63,246.55L155.32,245.71L157.02,244.87L158.72,244.08L160.42,243.30L162.12,242.51L163.81,241.83L165.51,241.33L167.21,240.92L168.91,240.51L170.61,240.02L172.30,239.50L174.00,238.94L175.70,238.29L177.40,237.51L179.10,236.43L180.79,234.90L182.49,233.20L184.19,231.62L185.89,230.28L187.59,228.82L189.28,227.03L190.98,225.01L192.68,222.93L194.38,220.79L196.08,218.45L197.77,215.75L199.47,212.36L201.17,208.12L202.87,203.64L204.57,199.01L206.26,195.08L207.96,192.06L209.66,188.49L211.36,183.74L213.06,170.30L214.75,161.92L216.45,154.02L218.15,145.11L219.85,137.81L221.54,131.76L223.24,121.30L224.94,106.83L226.64,93.05L228.34,79.82L230.03,64.52L231.73,54.83L233.43,47.45L235.13,39.74L236.83,34.54L238.52,31.14L240.22,28.84L241.92,26.96L243.62,25.65L245.32,25.11L247.01,24.71L248.71,24.47L250.41,24.40L252.11,24.39L253.81,24.38L255.50,24.37L257.20,24.36L258.90,24.35L260.60,24.34L262.30,24.33L263.99,24.32L265.69,24.31L267.39,24.31L269.09,24.30L270.79,24.29L272.48,24.28L274.18,24.28L275.88,24.27L277.58,24.27L279.28,24.26L280.97,24.26L282.67,24.25L284.37,24.25L286.07,24.24L287.77,24.24L289.46,24.24L291.16,24.23L292.86,24.23L294.56,24.23L296.25,24.22L297.95,24.22L299.65,24.22L301.35,24.22L303.05,24.21L304.74,24.21L306.44,24.21L308.14,24.21L309.84,24.21L311.54,24.21L313.23,24.20L314.93,24.20L316.63,24.20L318.33,24.20L320.03,24.20L321.72,24.20L323.42,24.20L325.12,24.20L326.82,24.20L328.52,24.20L330.21,24.20L331.91,24.20" fill="none" stroke="#8000ff" stroke-width="1.1"/>
<path d="M48.45,255.60L54.39,252.08V259.12Z"/><path d="M50.15,255.60L56.09,252.08V259.12Z"/><path d="M51.85,255.59L57.79,252.07V259.11Z"/><path d="M53.54,255.58L59.48,252.06V259.10Z"/><path d="M55.24,255.57L61.18,252.05V259.09Z"/><path d="M56.94,255.56L62.88,252.04V259.08Z"/><path d="M58.64,255.54L64.58,252.02V259.06Z"/><path d="M60.34,255.51L66.28,251.99V259.03Z"/><path d="M62.03,255.49L67.97,251.97V259.01Z"/><path d="M63.73,255.46L69.67,251.94V258.98Z"/><path d="M65.43,255.43L71.37,251.91V258.95Z"/><path d="M67.13,255.39L73.07,251.87V258.91Z"/><path d="M68.83,255.35L74.77,251.83V258.87Z"/><path d="M70.52,255.31L76.46,251.79V258.83Z"/><path d="M72.22,255.27L78.16,251.75V258.79Z"/><path d="M73.92,255.22L79.86,251.70V258.74Z"/><path d="M75.62,255.17L81.56,251.65V258.69Z"/><path d="M77.32,255.12L83.26,251.60V258.64Z"/><path d="M79.01,255.06L84.95,251.54V258.58Z"/><path d="M80.71,255.01L86.65,251.49V258.53Z"/><path d="M82.41,254.95L88.35,251.43V258.47Z"/><path d="M84.11,254.89L90.05,251.37V258.41Z"/><path d="M85.80,254.83L91.74,251.31V258.35Z"/><path d="M87.50,254.75L93.44,251.23V258.27Z"/><path d="M89.20,254.64L95.14,251.12V258.16Z"/><path d="M90.90,254.50L96.84,250.98V258.02Z"/><path d="M92.60,254.32L98.54,250.80V257.84Z"/><path d="M94.29,254.13L100.23,250.61V257.65Z"/><path d="M95.99,253.91L101.93,250.39V257.43Z"/><path d="M97.69,253.69L103.63,250.17V257.21Z"/><path d="M99.39,253.46L105.33,249.94V256.98Z"/><path d="M101.09,253.24L107.03,249.72V256.76Z"/><path d="M102.78,253.02L108.72,249.50V256.54Z"/><path d="M104.48,252.82L110.42,249.30V256.34Z"/><path d="M106.18,252.65L112.12,249.13V256.17Z"/><path d="M107.88,252.50L113.82,248.98V256.02Z"/><path d="M109.58,252.36L115.52,248.84V255.88Z"/><path d="M111.27,252.23L117.21,248.71V255.75Z"/><path d="M112.97,252.11L118.91,248.59V255.63Z"/><path d="M114.67,251.97L120.61,248.45V255.49Z"/><path d="M116.37,251.83L122.31,248.31V255.35Z"/><path d="M118.07,251.67L124.01,248.15V255.19Z"/><path d="M119.76,251.51L125.70,247.99V255.03Z"/><path d="M121.46,251.34L127.40,247.82V254.86Z"/><path d="M123.16,251.16L129.10,247.64V254.68Z"/><path d="M124.86,250.97L130.80,247.45V254.49Z"/><path d="M126.56,250.78L132.50,247.26V254.30Z"/><path d="M128.25,250.59L134.19,247.07V254.11Z"/><path d="M129.95,250.39L135.89,246.87V253.91Z"/><path d="M131.65,250.20L137.59,246.68V253.72Z"/><path d="M133.35,250.00L139.29,246.48V253.52Z"/><path d="M135.05,249.80L140.99,246.28V253.32Z"/><path d="M136.74,249.59L142.68,246.07V253.11Z"/><path d="M138.44,249.41L144.38,245.89V252.93Z"/><path d="M140.14,249.23L146.08,245.71V252.75Z"/><path d="M141.84,249.04L147.78,245.52V252.56Z"/><path d="M143.54,248.80L149.48,245.28V252.32Z"/><path d="M145.23,248.49L151.17,244.97V252.01Z"/><path d="M146.93,247.99L152.87,244.47V251.51Z"/><path d="M148.63,247.33L154.57,243.81V250.85Z"/><path d="M150.33,246.55L156.27,243.03V250.07Z"/><path d="M152.02,245.71L157.96,242.19V249.23Z"/><path d="M153.72,244.87L159.66,241.35V248.39Z"/><path d="M155.42,244.08L161.36,240.56V247.60Z"/><path d="M157.12,243.30L163.06,239.78V246.82Z"/><path d="M158.82,242.51L164.76,238.99V246.03Z"/><path d="M160.51,241.83L166.45,238.31V245.35Z"/><path d="M162.21,241.33L168.15,237.81V244.85Z"/><path d="M163.91,240.92L169.85,237.40V244.44Z"/><path d="M165.61,240.51L171.55,236.99V244.03Z"/><path d="M167.31,240.02L173.25,236.50V243.54Z"/><path d="M169.00,239.50L174.94,235.98V243.02Z"/><path d="M170.70,238.94L176.64,235.42V242.46Z"/><path d="M172.40,238.29L178.34,234.77V241.81Z"/><path d="M174.10,237.51L180.04,233.99V241.03Z"/><path d="M175.80,236.43L181.74,232.91V239.95Z"/><path d="M177.49,234.90L183.43,231.38V238.42Z"/><path d="M179.19,233.20L185.13,229.68V236.72Z"/><path d="M180.89,231.62L186.83,228.10V235.14Z"/><path d="M182.59,230.28L188.53,226.76V233.80Z"/><path d="M184.29,228.82L190.23,225.30V232.34Z"/><path d="M185.98,227.03L191.92,223.51V230.55Z"/><path d="M187.68,225.01L193.62,221.49V228.53Z"/><path d="M189.38,222.93L195.32,219.41V226.45Z"/><path d="M191.08,220.79L197.02,217.27V224.31Z"/><path d="M192.78,218.45L198.72,214.93V221.97Z"/><path d="M194.47,215.75L200.41,212.23V219.27Z"/><path d="M196.17,212.36L202.11,208.84V215.88Z"/><path d="M197.87,208.12L203.81,204.60V211.64Z"/><path d="M199.57,203.64L205.51,200.12V207.16Z"/><path d="M201.27,199.01L207.21,195.49V202.53Z"/><path d="M202.96,195.08L208.90,191.56V198.60Z"/><path d="M204.66,192.06L210.60,188.54V195.58Z"/><path d="M206.36,188.49L212.30,184.97V192.01Z"/><path d="M208.06,183.74L214.00,180.22V187.26Z"/><path d="M209.76,170.30L215.70,166.78V173.82Z"/><path d="M211.45,161.92L217.39,158.40V165.44Z"/><path d="M213.15,154.02L219.09,150.50V157.54Z"/><path d="M214.85,145.11L220.79,141.59V148.63Z"/><path d="M216.55,137.81L222.49,134.29V141.33Z"/><path d="M218.24,131.76L224.18,128.24V135.28Z"/><path d="M219.94,121.30L225.88,117.78V124.82Z"/><path d="M221.64,106.83L227.58,103.31V110.35Z"/><path d="M223.34,93.05L229.28,89.53V96.57Z"/><path d="M225.04,79.82L230.98,76.30V83.34Z"/><path d="M226.73,64.52L232.67,61.00V68.04Z"/><path d="M228.43,54.83L234.37,51.31V58.35Z"/><path d="M230.13,47.45L236.07,43.93V50.97Z"/><path d="M231.83,39.74L237.77,36.22V43.26Z"/><path d="M233.53,34.54L239.47,31.02V38.06Z"/><path d="M235.22,31.14L241.16,27.62V34.66Z"/><path d="M236.92,28.84L242.86,25.32V32.36Z"/><path d="M238.62,26.96L244.56,23.44V30.48Z"/><path d="M240.32,25.65L246.26,22.13V29.17Z"/><path d="M242.02,25.11L247.96,21.59V28.63Z"/><path d="M243.71,24.71L249.65,21.19V28.23Z"/><path d="M245.41,24.47L251.35,20.95V27.99Z"/><path d="M247.11,24.40L253.05,20.88V27.92Z"/><path d="M248.81,24.39L254.75,20.87V27.91Z"/><path d="M250.51,24.38L256.45,20.86V27.90Z"/><path d="M252.20,24.37L258.14,20.85V27.89Z"/><path d="M253.90,24.36L259.84,20.84V27.88Z"/><path d="M255.60,24.35L261.54,20.83V27.87Z"/><path d="M257.30,24.34L263.24,20.82V27.86Z"/><path d="M259.00,24.33L264.94,20.81V27.85Z"/><path d="M260.69,24.32L266.63,20.80V27.84Z"/><path d="M262.39,24.31L268.33,20.79V27.83Z"/><path d="M264.09,24.31L270.03,20.79V27.83Z"/><path d="M265.79,24.30L271.73,20.78V27.82Z"/><path d="M267.49,24.29L273.43,20.77V27.81Z"/><path d="M269.18,24.28L275.12,20.76V27.80Z"/><path d="M270.88,24.28L276.82,20.76V27.80Z"/><path d="M272.58,24.27L278.52,20.75V27.79Z"/><path d="M274.28,24.27L280.22,20.75V27.79Z"/><path d="M275.98,24.26L281.92,20.74V27.78Z"/><path d="M277.67,24.26L283.61,20.74V27.78Z"/><path d="M279.37,24.25L285.31,20.73V27.77Z"/><path d="M281.07,24.25L287.01,20.73V27.77Z"/><path d="M282.77,24.24L288.71,20.72V27.76Z"/><path d="M284.47,24.24L290.41,20.72V27.76Z"/><path d="M286.16,24.24L292.10,20.72V27.76Z"/><path d="M287.86,24.23L293.80,20.71V27.75Z"/><path d="M289.56,24.23L295.50,20.71V27.75Z"/><path d="M291.26,24.23L297.20,20.71V27.75Z"/><path d="M292.95,24.22L298.89,20.70V27.74Z"/><path d="M294.65,24.22L300.59,20.70V27.74Z"/><path d="M296.35,24.22L302.29,20.70V27.74Z"/><path d="M298.05,24.22L303.99,20.70V27.74Z"/><path d="M299.75,24.21L305.69,20.69V27.73Z"/><path d="M301.44,24.21L307.38,20.69V27.73Z"/><path d="M303.14,24.21L309.08,20.69V27.73Z"/><path d="M304.84,24.21L310.78,20.69V27.73Z"/><path d="M306.54,24.21L312.48,20.69V27.73Z"/><path d="M308.24,24.21L314.18,20.69V27.73Z"/><path d="M309.93,24.20L315.87,20.68V27.72Z"/><path d="M311.63,24.20L317.57,20.68V27.72Z"/><path d="M313.33,24.20L319.27,20.68V27.72Z"/><path d="M315.03,24.20L320.97,20.68V27.72Z"/><path d="M316.73,24.20L322.67,20.68V27.72Z"/><path d="M318.42,24.20L324.36,20.68V27.72Z"/><path d="M320.12,24.20L326.06,20.68V27.72Z"/><path d="M321.82,24.20L327.76,20.68V27.72Z"/><path d="M323.52,24.20L329.46,20.68V27.72Z"/><path d="M325.22,24.20L331.16,20.68V27.72Z"/><path d="M326.91,24.20L332.85,20.68V27.72Z"/><path d="M328.61,24.20L334.55,20.68V27.72Z"/>
</g></g>
<path d="M51.75,0.35H332.79V279.15H51.75Z" fill="none" stroke="#000" stroke-width="1.55"/>
<text transform="translate(51.75,295.30) scale(1,1.07)" font-family="Liberation Serif, serif" stroke="#000" stroke-width="0.22" font-size="12.4" text-anchor="middle">76</text>
<text transform="translate(75.17,295.30) scale(1,1.07)" font-family="Liberation Serif, serif" stroke="#000" stroke-width="0.22" font-size="12.4" text-anchor="middle">78</text>
<text transform="translate(98.59,295.30) scale(1,1.07)" font-family="Liberation Serif, serif" stroke="#000" stroke-width="0.22" font-size="12.4" text-anchor="middle">80</text>
<text transform="translate(122.01,295.30) scale(1,1.07)" font-family="Liberation Serif, serif" stroke="#000" stroke-width="0.22" font-size="12.4" text-anchor="middle">82</text>
<text transform="translate(145.43,295.30) scale(1,1.07)" font-family="Liberation Serif, serif" stroke="#000" stroke-width="0.22" font-size="12.4" text-anchor="middle">84</text>
<text transform="translate(168.85,295.30) scale(1,1.07)" font-family="Liberation Serif, serif" stroke="#000" stroke-width="0.22" font-size="12.4" text-anchor="middle">86</text>
<text transform="translate(192.27,295.30) scale(1,1.07)" font-family="Liberation Serif, serif" stroke="#000" stroke-width="0.22" font-size="12.4" text-anchor="middle">88</text>
<text transform="translate(215.69,295.30) scale(1,1.07)" font-family="Liberation Serif, serif" stroke="#000" stroke-width="0.22" font-size="12.4" text-anchor="middle">90</text>
<text transform="translate(239.11,295.30) scale(1,1.07)" font-family="Liberation Serif, serif" stroke="#000" stroke-width="0.22" font-size="12.4" text-anchor="middle">92</text>
<text transform="translate(262.53,295.30) scale(1,1.07)" font-family="Liberation Serif, serif" stroke="#000" stroke-width="0.22" font-size="12.4" text-anchor="middle">94</text>
<text transform="translate(285.95,295.30) scale(1,1.07)" font-family="Liberation Serif, serif" stroke="#000" stroke-width="0.22" font-size="12.4" text-anchor="middle">96</text>
<text transform="translate(309.37,295.30) scale(1,1.07)" font-family="Liberation Serif, serif" stroke="#000" stroke-width="0.22" font-size="12.4" text-anchor="middle">98</text>
<text transform="translate(332.79,295.30) scale(1,1.07)" font-family="Liberation Serif, serif" stroke="#000" stroke-width="0.22" font-size="12.4" text-anchor="middle">100</text>
<text transform="translate(45.30,28.60) scale(1,1.1)" font-family="Liberation Serif, serif" stroke="#000" stroke-width="0.22" font-size="12.4" text-anchor="end">0.0</text>
<text transform="translate(45.30,75.10) scale(1,1.1)" font-family="Liberation Serif, serif" stroke="#000" stroke-width="0.22" font-size="12.4" text-anchor="end">-0.2</text>
<text transform="translate(45.30,121.60) scale(1,1.1)" font-family="Liberation Serif, serif" stroke="#000" stroke-width="0.22" font-size="12.4" text-anchor="end">-0.4</text>
<text transform="translate(45.30,168.10) scale(1,1.1)" font-family="Liberation Serif, serif" stroke="#000" stroke-width="0.22" font-size="12.4" text-anchor="end">-0.6</text>
<text transform="translate(45.30,214.60) scale(1,1.1)" font-family="Liberation Serif, serif" stroke="#000" stroke-width="0.22" font-size="12.4" text-anchor="end">-0.8</text>
<text transform="translate(45.30,261.10) scale(1,1.1)" font-family="Liberation Serif, serif" stroke="#000" stroke-width="0.22" font-size="12.4" text-anchor="end">-1.0</text>
<text transform="translate(190.80,315.40) scale(1,1.1)" font-family="Liberation Serif, serif" stroke="#000" stroke-width="0.22" font-size="12" text-anchor="middle">T/K</text>
<text transform="translate(10.90,133.00) rotate(-90) scale(1.1,1)" font-family="Liberation Serif, serif" stroke="#000" stroke-width="0.22" font-size="12" text-anchor="middle">Normalized Moment/a.u</text>
<g fill="#000"><path d="M89.9,113.80H114.7" stroke="#000" stroke-width="1.5"/><rect x="99.90" y="111.40" width="4.80" height="4.80"/></g>
<text transform="translate(117.1,118.30) scale(1,1.1)" font-family="Liberation Serif, serif" stroke="#000" stroke-width="0.2" font-size="11">x = 0 wt%</text>
<g fill="#ff0000"><path d="M89.9,127.22H114.7" stroke="#ff0000" stroke-width="1.5"/><circle cx="102.30" cy="127.22" r="2.50"/></g>
<text transform="translate(117.1,131.72) scale(1,1.1)" font-family="Liberation Serif, serif" stroke="#000" stroke-width="0.2" font-size="11">x = 3 wt%</text>
<g fill="#0000ff"><path d="M89.9,140.64H114.7" stroke="#0000ff" stroke-width="1.5"/><path d="M102.30,137.44L105.40,142.84H99.20Z"/></g>
<text transform="translate(117.1,145.14) scale(1,1.1)" font-family="Liberation Serif, serif" stroke="#000" stroke-width="0.2" font-size="11">x = 5 wt%</text>
<g fill="#ff00ff"><path d="M89.9,154.06H114.7" stroke="#ff00ff" stroke-width="1.5"/><path d="M102.30,157.26L105.40,151.86H99.20Z"/></g>
<text transform="translate(117.1,158.56) scale(1,1.1)" font-family="Liberation Serif, serif" stroke="#000" stroke-width="0.2" font-size="11">x = 7 wt%</text>
<g fill="#00ffff"><path d="M89.9,167.48H114.7" stroke="#00ffff" stroke-width="1.5"/><path d="M102.30,164.18L105.50,167.48L102.30,170.78L99.10,167.48Z"/></g>
<text transform="translate(117.1,171.98) scale(1,1.1)" font-family="Liberation Serif, serif" stroke="#000" stroke-width="0.2" font-size="11">x = 10 wt%</text>
<g fill="#8000ff"><path d="M89.9,180.90H114.7" stroke="#8000ff" stroke-width="1.5"/><path d="M99.30,180.90L104.70,177.70V184.10Z"/></g>
<text transform="translate(117.1,185.40) scale(1,1.1)" font-family="Liberation Serif, serif" stroke="#000" stroke-width="0.2" font-size="11">x = 15 wt%</text>
</svg>
</body></html>
